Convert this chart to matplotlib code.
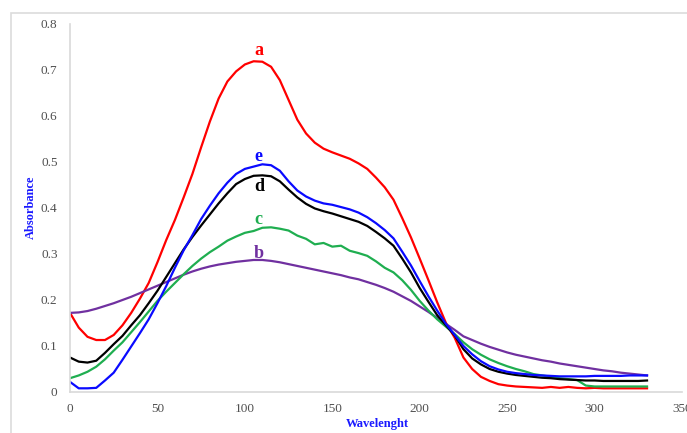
import matplotlib.pyplot as plt
from matplotlib.patches import Rectangle

# wavelength grid (every 5 units) and absorbance
wavelength = list(range(0, 335, 5))

abs_a = [0.172, 0.140, 0.120, 0.113, 0.113, 0.124, 0.145, 0.172, 0.203, 0.237,
         0.282, 0.330, 0.374, 0.423, 0.474, 0.532, 0.588, 0.638, 0.675, 0.697,
         0.712, 0.719, 0.718, 0.707, 0.678, 0.635, 0.592, 0.562, 0.542, 0.529,
         0.521, 0.514, 0.507, 0.497, 0.485, 0.466, 0.445, 0.418, 0.378, 0.336,
         0.290, 0.243, 0.195, 0.150, 0.118, 0.075, 0.050, 0.033, 0.024, 0.017,
         0.014, 0.012, 0.011, 0.010, 0.009, 0.011, 0.009, 0.011, 0.009, 0.008,
         0.009, 0.008, 0.008, 0.008, 0.008, 0.008, 0.008]

abs_b = [0.172, 0.173, 0.176, 0.181, 0.187, 0.193, 0.200, 0.207, 0.215, 0.223,
         0.231, 0.239, 0.247, 0.255, 0.262, 0.268, 0.273, 0.277, 0.280, 0.283,
         0.285, 0.287, 0.287, 0.285, 0.282, 0.278, 0.274, 0.270, 0.266, 0.262,
         0.258, 0.254, 0.249, 0.245, 0.239, 0.233, 0.226, 0.218, 0.208, 0.198,
         0.186, 0.174, 0.161, 0.148, 0.135, 0.121, 0.113, 0.105, 0.098, 0.092,
         0.086, 0.081, 0.077, 0.073, 0.069, 0.066, 0.062, 0.059, 0.056, 0.053,
         0.050, 0.047, 0.045, 0.042, 0.040, 0.038, 0.036]

abs_c = [0.030, 0.036, 0.044, 0.055, 0.071, 0.090, 0.108, 0.130, 0.152, 0.175,
         0.198, 0.218, 0.237, 0.256, 0.274, 0.290, 0.304, 0.316, 0.329, 0.338,
         0.346, 0.350, 0.357, 0.358, 0.355, 0.351, 0.340, 0.333, 0.321, 0.324,
         0.316, 0.318, 0.307, 0.302, 0.296, 0.284, 0.270, 0.260, 0.243, 0.222,
         0.198, 0.177, 0.158, 0.142, 0.126, 0.108, 0.093, 0.081, 0.071, 0.063,
         0.056, 0.050, 0.045, 0.039, 0.036, 0.033, 0.030, 0.028, 0.026, 0.014,
         0.012, 0.012, 0.012, 0.012, 0.012, 0.012, 0.012]

abs_d = [0.075, 0.066, 0.064, 0.068, 0.085, 0.104, 0.122, 0.145, 0.167, 0.193,
         0.220, 0.250, 0.280, 0.310, 0.337, 0.362, 0.386, 0.410, 0.432, 0.452,
         0.463, 0.470, 0.471, 0.469, 0.458, 0.440, 0.423, 0.409, 0.399, 0.393,
         0.388, 0.382, 0.376, 0.370, 0.361, 0.348, 0.334, 0.318, 0.290, 0.260,
         0.226, 0.196, 0.167, 0.145, 0.123, 0.093, 0.073, 0.060, 0.050, 0.044,
         0.040, 0.037, 0.035, 0.033, 0.031, 0.030, 0.028, 0.027, 0.026, 0.025,
         0.025, 0.024, 0.024, 0.024, 0.024, 0.024, 0.025]

abs_e = [0.022, 0.008, 0.008, 0.009, 0.025, 0.042, 0.070, 0.099, 0.128, 0.158,
         0.193, 0.230, 0.270, 0.308, 0.341, 0.376, 0.405, 0.432, 0.455, 0.474,
         0.485, 0.490, 0.495, 0.493, 0.481, 0.458, 0.438, 0.425, 0.416, 0.410,
         0.407, 0.402, 0.397, 0.390, 0.380, 0.367, 0.352, 0.334, 0.305, 0.275,
         0.241, 0.208, 0.177, 0.148, 0.124, 0.100, 0.082, 0.067, 0.056, 0.049,
         0.044, 0.041, 0.039, 0.037, 0.036, 0.035, 0.034, 0.034, 0.034, 0.034,
         0.035, 0.035, 0.035, 0.035, 0.036, 0.036, 0.036]

series = [
    ('a', abs_a, '#ff0000', 0.743),
    ('b', abs_b, '#7030a0', 0.302),
    ('c', abs_c, '#1fae50', 0.376),
    ('d', abs_d, '#000000', 0.446),
    ('e', abs_e, '#0a0aff', 0.511),
]

plt.rcParams['font.family'] = ['Liberation Serif', 'DejaVu Serif']

fig = plt.figure(figsize=(6.87, 4.33), dpi=100)
ax = fig.add_axes([70 / 687, 41 / 433, 612 / 687, 368 / 433])

for name, vals, col, ylab in series:
    ax.plot(wavelength, vals, color=col, lw=1.6)
    ax.text(108, ylab, name, color=col, fontsize=13, fontweight='bold',
            ha='center', va='center')

ax.set_xlim(0, 350)
ax.set_ylim(0, 0.8)
ax.set_xticks(range(0, 351, 50))
ax.set_yticks([0, 0.1, 0.2, 0.3, 0.4, 0.5, 0.6, 0.7, 0.8])
ax.set_yticklabels(['0', '0.1', '0.2', '0.3', '0.4', '0.5', '0.6', '0.7', '0.8'])
ax.tick_params(axis='both', length=0, labelsize=9.5, labelcolor='#505050')
ax.tick_params(axis='y', pad=9)
ax.tick_params(axis='x', pad=8)

for s in ['top', 'right']:
    ax.spines[s].set_visible(False)
for s in ['left', 'bottom']:
    ax.spines[s].set_color('#d9d9d9')
    ax.spines[s].set_linewidth(1.2)

ax.set_ylabel('Absorbance', color='#1a1aff', fontsize=9, fontweight='bold')
ax.set_xlabel('Wavelenght', color='#1a1aff', fontsize=9, fontweight='bold')
ax.yaxis.set_label_coords(-33 / 612, 0.503)
ax.xaxis.set_label_coords(0.502, -26 / 368)

# light chart border
fig.patches.append(Rectangle((11 / 687, -0.1), 1.2, (433 - 13) / 433 + 0.1,
                             transform=fig.transFigure, fill=False,
                             edgecolor='#dcdcdc', lw=1.2))

fig.savefig('out.png', dpi=100)
